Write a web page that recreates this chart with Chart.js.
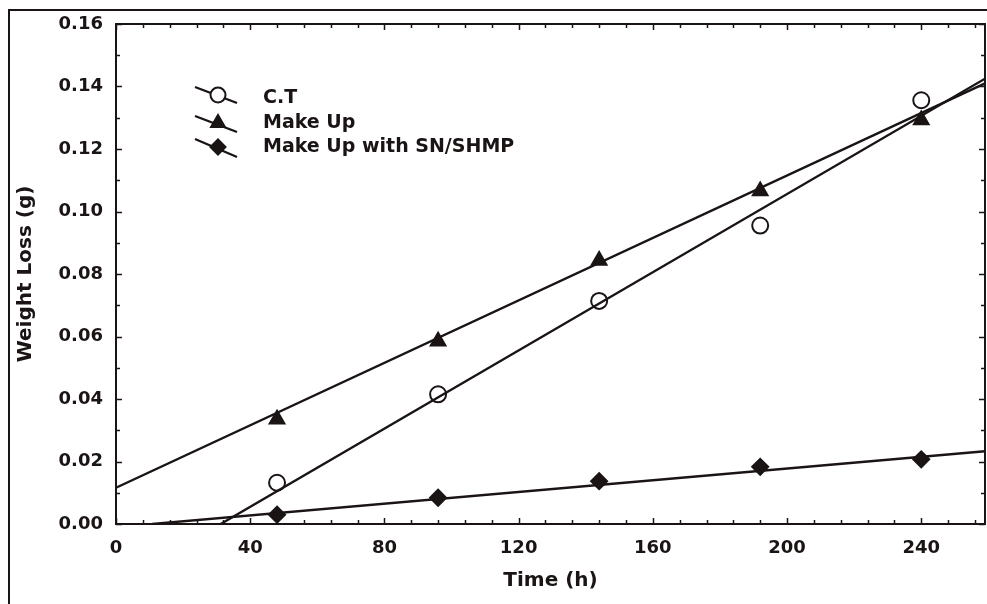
<!DOCTYPE html>
<html>
<head>
<meta charset="utf-8">
<title>Weight Loss vs Time</title>
<script src="https://cdn.jsdelivr.net/npm/chart.js@4/dist/chart.umd.min.js"></script>
<style>
  html, body { margin: 0; padding: 0; background: #ffffff; }
  #wrap { width: 987px; height: 604px; position: relative; }
  canvas { display: block; }
</style>
</head>
<body>
<div id="wrap"><canvas id="c" width="987" height="604"></canvas></div>
<script>
// Measured weight loss (g) at each sampling time (h)
const timeHours  = [48, 96, 144, 192, 240];
const lossCT     = [0.0132, 0.0415, 0.0714, 0.0955, 0.1356];
const lossMakeUp = [0.0335, 0.0585, 0.0843, 0.1066, 0.1293];
const lossSN     = [0.0030, 0.0084, 0.0137, 0.0183, 0.0207];

// Straight-line fits, given as end points [time, loss]
const fitCT     = [[31.2, 0], [259, 0.1425]];
const fitMakeUp = [[0, 0.0116], [259, 0.1410]];
const fitSN     = [[10.8, 0], [259, 0.0233]];

const seriesNames = ['C.T', 'Make Up', 'Make Up with SN/SHMP'];
const xTickValues = [0, 40, 80, 120, 160, 200, 240];
const yTickValues = [0, 0.02, 0.04, 0.06, 0.08, 0.10, 0.12, 0.14, 0.16];
const xAxisTitle = 'Time (h)';
const yAxisTitle = 'Weight Loss (g)';

const INK = '#1a1414';
const FONT = 'DejaVu Sans';

const toPoints = (xs, ys) => xs.map((x, i) => ({ x: x, y: ys[i] }));
const fitPoints = f => f.map(p => ({ x: p[0], y: p[1] }));

const markerStyles = [
  { pointStyle: 'circle',   radius: 8,   fill: 'rgba(0,0,0,0)' },
  { pointStyle: 'triangle', radius: 8.5, fill: INK },
  { pointStyle: 'rectRot',  radius: 8,   fill: INK }
];

function markerSet(label, data, st) {
  return {
    type: 'scatter', label: label, data: data, order: 0,
    pointStyle: st.pointStyle, pointRadius: st.radius,
    pointBackgroundColor: st.fill, pointBorderColor: INK, pointBorderWidth: 2,
    showLine: false
  };
}
function fitSet(label, data) {
  return {
    type: 'line', label: label, data: data, order: 1,
    borderColor: INK, borderWidth: 2.4, pointRadius: 0, fill: false, tension: 0
  };
}

// Box around the plot with inward ticks on all four sides, plus the outer frame
const framePlugin = {
  id: 'frame',
  beforeDatasetsDraw(chart) {
    const { ctx, chartArea: a, scales: { x, y } } = chart;
    ctx.save();
    ctx.strokeStyle = INK;
    ctx.lineWidth = 2;
    ctx.strokeRect(a.left, a.top, a.right - a.left, a.bottom - a.top);
    ctx.lineWidth = 1.5;
    ctx.beginPath();
    for (let v = 0; v <= x.max + 1e-9; v += 8) {
      const px = Math.round(x.getPixelForValue(v)) + 0.5;
      const len = (v % 40 === 0) ? 6 : 4;
      ctx.moveTo(px, a.bottom); ctx.lineTo(px, a.bottom - len);
      ctx.moveTo(px, a.top);    ctx.lineTo(px, a.top + len);
    }
    for (let k = 0; k <= 16; k++) {
      const py = Math.round(y.getPixelForValue(k / 100)) + 0.5;
      const len = (k % 2 === 0) ? 6 : 4;
      ctx.moveTo(a.left, py);  ctx.lineTo(a.left + len, py);
      ctx.moveTo(a.right, py); ctx.lineTo(a.right - len, py);
    }
    ctx.stroke();
    ctx.restore();
  },
  afterDraw(chart) {
    const { ctx, width, height } = chart;
    ctx.save();
    ctx.strokeStyle = INK;
    ctx.lineWidth = 2;
    ctx.beginPath();
    ctx.moveTo(9, height);
    ctx.lineTo(9, 10);
    ctx.lineTo(width, 10);
    ctx.stroke();
    ctx.restore();
  }
};

// Legend with slanted line samples through each marker
const legendPlugin = {
  id: 'slantLegend',
  afterDraw(chart) {
    const { ctx } = chart;
    const rows = [
      { lineY0: 87,  lineY1: 103, markY: 95,  textY: 103 },
      { lineY0: 116, lineY1: 132, markY: 123, textY: 128 },
      { lineY0: 139, lineY1: 157, markY: 147, textY: 152 }
    ];
    ctx.save();
    rows.forEach((r, i) => {
      ctx.strokeStyle = INK;
      ctx.lineWidth = 2.4;
      ctx.beginPath();
      ctx.moveTo(195, r.lineY0);
      ctx.lineTo(237, r.lineY1);
      ctx.stroke();
      const st = markerStyles[i];
      ctx.fillStyle = i === 0 ? '#ffffff' : INK;
      ctx.strokeStyle = INK;
      ctx.lineWidth = 2;
      Chart.helpers.drawPoint(ctx, {
        pointStyle: st.pointStyle, radius: i === 0 ? 7.5 : st.radius - 0.5,
        rotation: 0, borderWidth: 2
      }, 218, r.markY);
      ctx.fillStyle = INK;
      ctx.font = 'bold 19px "' + FONT + '"';
      ctx.textBaseline = 'alphabetic';
      ctx.textAlign = 'left';
      ctx.fillText(seriesNames[i], 263, r.textY);
    });
    ctx.restore();
  }
};

const chart = new Chart(document.getElementById('c').getContext('2d'), {
  data: {
    datasets: [
      fitSet(seriesNames[0] + ' fit', fitPoints(fitCT)),
      fitSet(seriesNames[1] + ' fit', fitPoints(fitMakeUp)),
      fitSet(seriesNames[2] + ' fit', fitPoints(fitSN)),
      markerSet(seriesNames[0], toPoints(timeHours, lossCT), markerStyles[0]),
      markerSet(seriesNames[1], toPoints(timeHours, lossMakeUp), markerStyles[1]),
      markerSet(seriesNames[2], toPoints(timeHours, lossSN), markerStyles[2])
    ]
  },
  options: {
    responsive: false,
    animation: false,
    devicePixelRatio: 1,
    layout: { autoPadding: false, padding: { left: 0, right: 2, top: 24, bottom: 0 } },
    plugins: { legend: { display: false }, tooltip: { enabled: false } },
    scales: {
      x: {
        type: 'linear', min: 0, max: 259,
        afterBuildTicks: s => { s.ticks = xTickValues.map(v => ({ value: v })); },
        afterFit: s => { s.height = 80; s.paddingLeft = 0; s.paddingRight = 0; },
        grid: { display: false, drawTicks: false },
        border: { display: false },
        ticks: {
          padding: 14, color: INK,
          font: { family: FONT, size: 18, weight: 'bold' },
          callback: v => String(v)
        },
        title: {
          display: true, text: xAxisTitle, color: INK,
          font: { family: FONT, size: 20, weight: 'bold' },
          padding: { top: 0, bottom: 11 }
        }
      },
      y: {
        type: 'linear', min: 0, max: 0.16,
        afterBuildTicks: s => { s.ticks = yTickValues.map(v => ({ value: v })); },
        afterFit: s => { s.width = 116; s.paddingTop = 0; s.paddingBottom = 0; },
        grid: { display: false, drawTicks: false },
        border: { display: false },
        ticks: {
          padding: 13, color: INK,
          font: { family: FONT, size: 18, weight: 'bold' },
          callback: v => Number(v).toFixed(2)
        },
        title: {
          display: true, text: yAxisTitle, color: INK,
          font: { family: FONT, size: 20, weight: 'bold' },
          padding: { top: 14, bottom: 0 }
        }
      }
    }
  },
  plugins: [framePlugin, legendPlugin]
});
</script>
</body>
</html>
